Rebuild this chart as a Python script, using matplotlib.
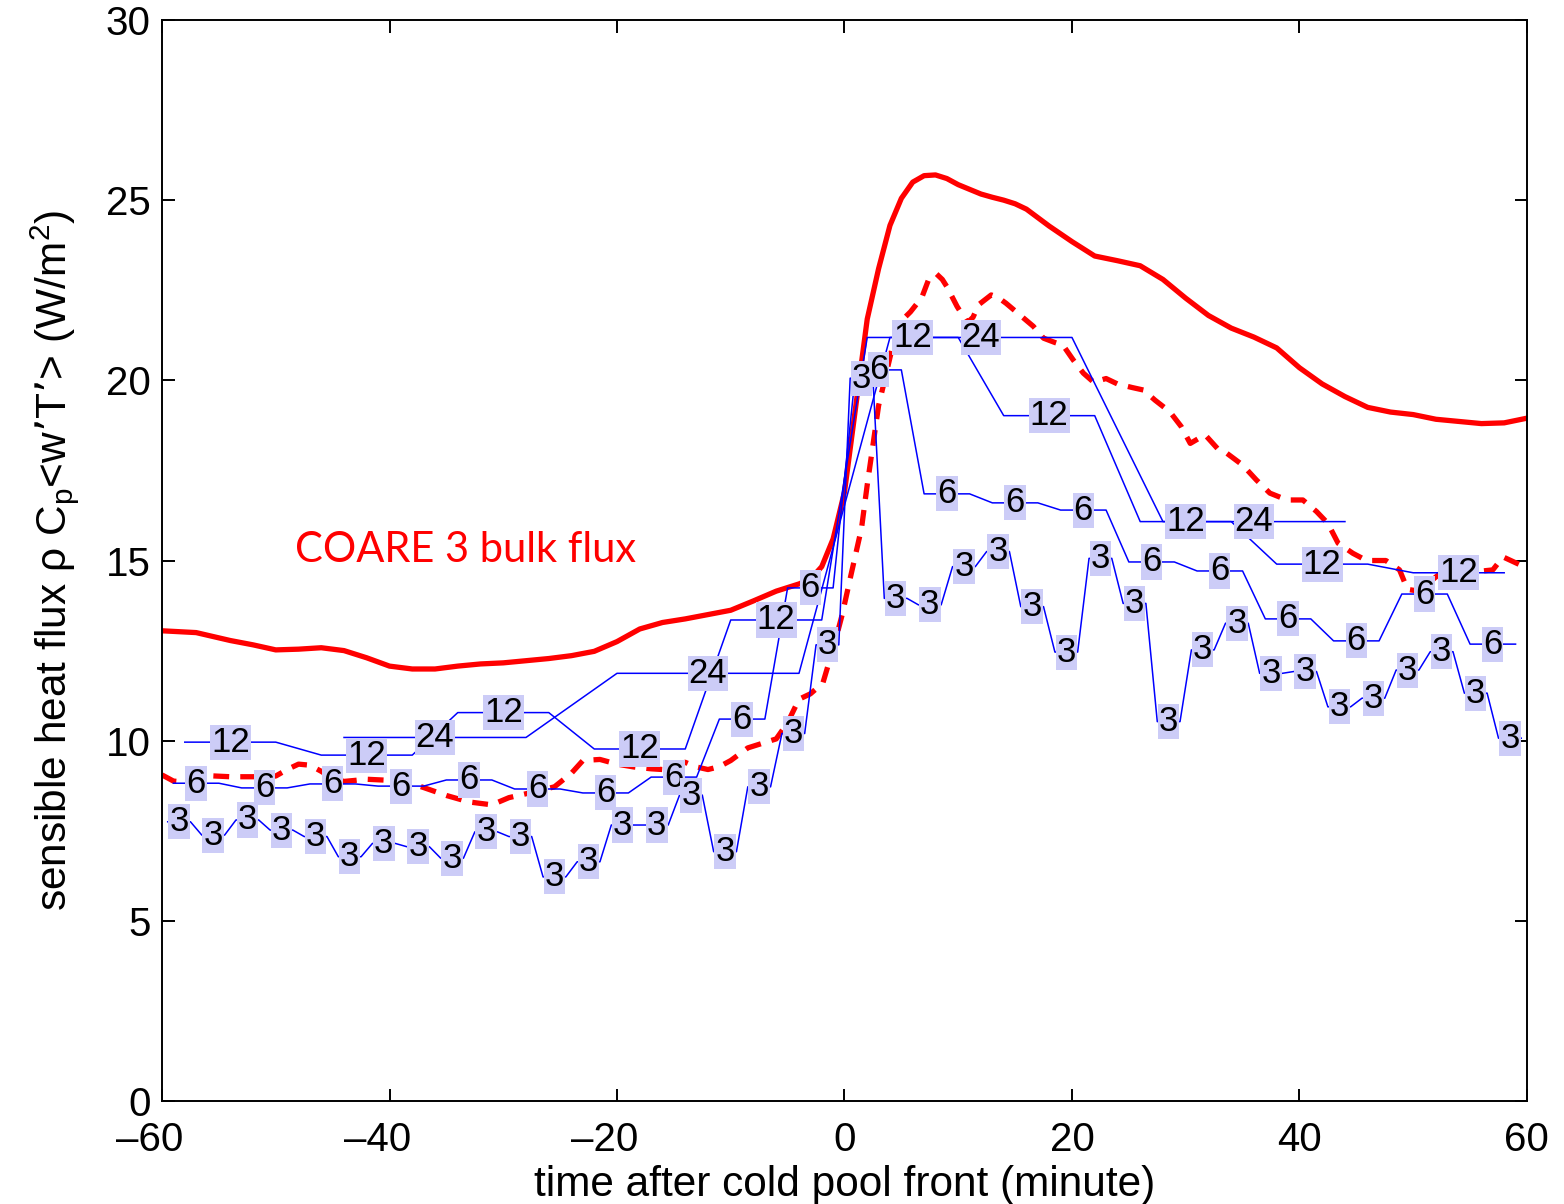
import numpy as np
import matplotlib
matplotlib.use("Agg")
import matplotlib.pyplot as plt
from matplotlib.ticker import FuncFormatter
from matplotlib.transforms import ScaledTranslation

plt.rcParams['font.family'] = ['Liberation Sans', 'DejaVu Sans']

# averaging windows (minutes) and bin centres
win3, win6, win12, win24 = 3, 6, 12, 24
t3 = np.arange(-58.5, 60, 3)
t6 = np.arange(-57, 60, 6)
t12 = np.arange(-54, 60, 12)
t24 = np.arange(-36, 37, 24)

flux3 = [7.75, 7.38, 7.80, 7.52, 7.34, 6.78, 7.15, 7.06, 6.74, 7.47,
         7.34, 6.22, 6.64, 7.66, 7.66, 8.49, 6.92, 8.72, 10.20, 12.66,
         20.06, 13.95, 13.77, 14.83, 15.25, 13.72, 12.46, 15.06, 13.81, 10.53,
         12.52, 13.26, 11.87, 11.92, 10.94, 11.18, 11.96, 12.47, 11.32, 10.07]
flux6 = [8.82, 8.69, 8.80, 8.74, 8.91, 8.66, 8.55, 8.99, 10.60, 14.24,
         20.29, 16.85, 16.60, 16.40, 14.96, 14.71, 13.38, 12.77, 14.07, 12.68]
flux12 = [9.96, 9.60, 10.78, 9.77, 13.35, 21.19, 19.02, 16.08, 14.90, 14.66]
flux24 = [10.09, 11.87, 21.19, 16.08]

# COARE 3 bulk flux (solid red)
t_bulk = [-60, -57, -54, -52, -50, -48, -46, -44, -42, -40, -38, -36, -34, -32,
          -30, -28, -26, -24, -22, -20, -18, -16, -14, -12, -10, -8, -6, -4,
          -3, -2, -1, 0, 1, 2, 3, 4, 5, 6, 7, 8, 9, 10, 11, 12, 13, 14, 15, 16,
          18, 20, 22, 24, 26, 28, 30, 32, 34, 36, 38, 40, 42, 44, 46, 48, 50,
          52, 54, 56, 58, 60]
bulk = [13.05, 13.00, 12.78, 12.66, 12.52, 12.54, 12.58, 12.50, 12.30, 12.07,
        11.99, 11.99, 12.07, 12.13, 12.16, 12.22, 12.28, 12.36, 12.48, 12.75,
        13.10, 13.28, 13.38, 13.50, 13.62, 13.88, 14.15, 14.35, 14.48, 14.83,
        15.60, 16.90, 19.30, 21.70, 23.10, 24.30, 25.05, 25.50, 25.68, 25.70,
        25.60, 25.43, 25.30, 25.17, 25.08, 25.00, 24.90, 24.75, 24.28, 23.85,
        23.45, 23.32, 23.18, 22.80, 22.28, 21.80, 21.45, 21.20, 20.90, 20.35,
        19.90, 19.55, 19.25, 19.12, 19.05, 18.92, 18.86, 18.80, 18.82, 18.95]

# direct flux (dashed red)
t_dir = [-60, -59, -58, -56, -54, -52, -50, -49, -48, -47, -46, -45, -44, -42,
         -40, -38, -37, -35, -33, -31, -29.5, -27, -25.5, -24, -23, -21.5, -20,
         -18.5, -17, -16, -15, -14, -13, -12, -11, -10, -8.5, -7, -6, -5, -4,
         -3, -1.9, -1.3, -0.7, -0.2, 0.5, 1.5, 2.0, 2.5, 3.0, 3.6, 4.2, 4.6,
         5.0, 5.8, 6.8, 7.4, 8.1, 8.6, 9.0, 9.9, 10.8, 11.3, 11.8, 12.9, 13.5,
         14.2, 15.4, 16.6, 17.5, 18.5, 19.2, 20.1, 21.0, 21.9, 23.0, 24.0, 25.3,
         26.3, 27.3, 28.6, 29.6, 30.4, 31.7, 32.9, 33.6, 35.0, 36.2, 37.4, 38.9,
         40.3, 41.5, 42.5, 43.4, 44.7, 45.9, 47.6, 48.8, 49.5, 50.5, 52.4, 54.0,
         55.8, 57.0, 57.9, 59.4, 60]
direct = [9.05, 8.88, 8.85, 9.03, 9.00, 9.00, 9.02, 9.20, 9.35, 9.32, 9.15,
          8.95, 8.87, 8.93, 8.90, 8.80, 8.70, 8.48, 8.30, 8.22, 8.42, 8.60,
          8.72, 9.10, 9.45, 9.48, 9.35, 9.27, 9.22, 9.20, 9.30, 9.40, 9.27,
          9.20, 9.28, 9.45, 9.80, 9.95, 10.05, 10.50, 11.15, 11.30, 11.60,
          12.24, 12.90, 13.50, 14.50, 15.90, 17.10, 18.20, 19.30, 20.10, 20.90,
          21.30, 21.65, 21.90, 22.30, 22.80, 22.95, 22.80, 22.60, 22.05, 21.60,
          21.75, 22.10, 22.37, 22.30, 22.14, 21.82, 21.50, 21.17, 21.05, 20.98,
          20.57, 20.20, 19.95, 20.05, 19.90, 19.80, 19.73, 19.45, 19.13, 18.72,
          18.25, 18.49, 18.07, 17.98, 17.65, 17.24, 16.87, 16.68, 16.68, 16.36,
          16.03, 15.48, 15.20, 15.00, 15.00, 14.74, 14.20, 14.15, 14.65, 14.70,
          14.70, 14.74, 15.10, 14.88, 14.90]


def held_line(centres, vals, w):
    # each averaged value is held over three samples spaced w/3 apart
    d = w / 3.0
    c = np.asarray(centres, dtype=float)
    x = np.column_stack([c - d, c, c + d]).ravel()
    y = np.repeat(np.asarray(vals, dtype=float), 3)
    return x, y


fig = plt.figure(figsize=(15.64, 12.04), dpi=100)
ax = fig.add_axes([0.1036, 0.0855, 0.8727, 0.8979])

ax.plot(t_bulk, bulk, color='red', lw=3.8, zorder=2)
ax.plot(t_dir, direct, color='red', lw=3.8, ls=(0, (3.0, 2.1)), zorder=2)

series = [(win24, t24, flux24), (win12, t12, flux12),
          (win6, t6, flux6), (win3, t3, flux3)]
box = dict(boxstyle='square,pad=0.03', facecolor='#ccccf7', edgecolor='none')
for w, cen, vals in series:
    x, y = held_line(cen, vals, w)
    ax.plot(x, y, color='blue', lw=1.1, zorder=3)
for w, cen, vals in series:
    for c, v in zip(cen, vals):
        ax.text(c, v, str(w), fontsize=25, ha='center', va='center',
                bbox=box, zorder=5)

ax.text(-48.3, 15.3, 'COARE 3 bulk flux', color='red', fontsize=30,
        family=['Lato', 'DejaVu Sans'], ha='left', va='center')

ax.set_xlim(-60, 60)
ax.set_ylim(0, 30)
ax.set_xticks(np.arange(-60, 61, 20))
ax.set_yticks(np.arange(0, 31, 5))
ax.xaxis.set_major_formatter(FuncFormatter(
    lambda v, p: ('\u2013%d' % abs(v)) if v < 0 else '%d' % v))
ax.tick_params(direction='in', top=True, right=True, length=9, width=1.4,
               labelsize=29)
ax.tick_params(axis='x', pad=14)
ax.tick_params(axis='y', pad=8)
for s in ax.spines.values():
    s.set_linewidth(1.4)

ax.set_xlabel('time after cold pool front (minute)', fontsize=30.5, labelpad=5)
ax.set_ylabel(r"sensible heat flux ρ C$_\mathregular{p}$<w’T’> (W/m$^\mathregular{2}$)",
              fontsize=30.5, labelpad=18)

# MATLAB centres the digits on the tick, the minus hangs to the left
fig.canvas.draw()
shift = ScaledTranslation(-0.12, 0, fig.dpi_scale_trans)
for tick in ax.xaxis.get_major_ticks():
    if tick.get_loc() < 0:
        tick.label1.set_transform(tick.label1.get_transform() + shift)

fig.savefig('out.png', dpi=100)
